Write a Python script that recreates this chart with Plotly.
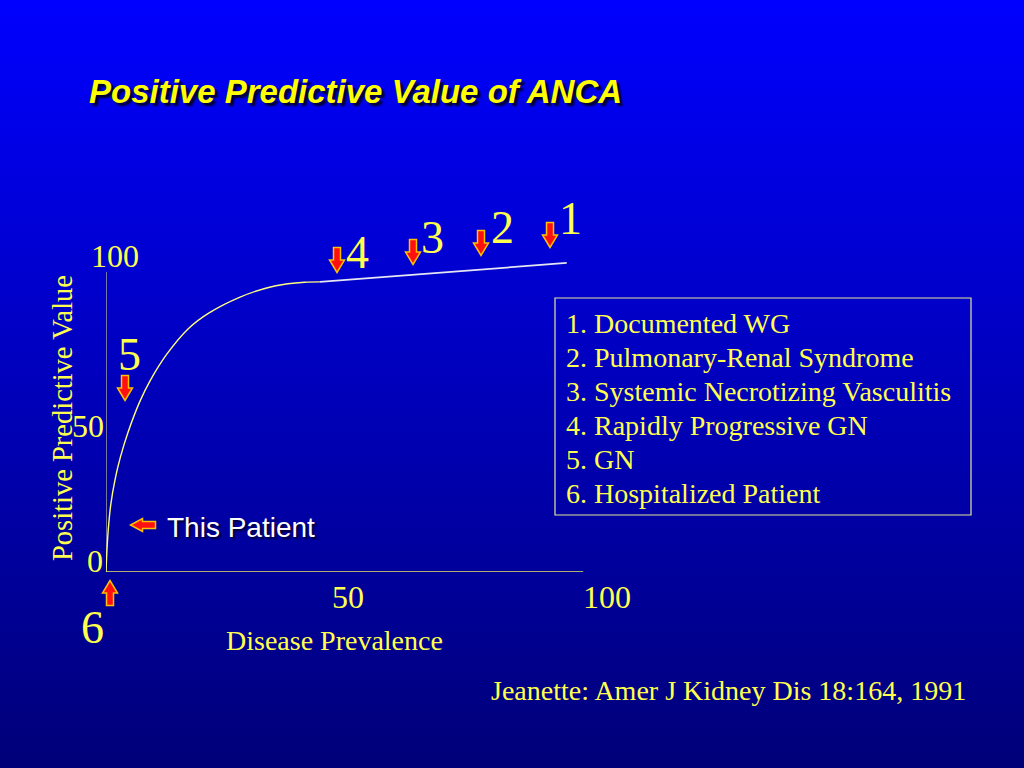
import plotly.graph_objects as go

W, H = 1024, 768

# ---- data ----
curve_x = [0, 0.2, 0.5, 1.0, 1.9, 3.0, 4.5, 7.0, 9.1, 12.6, 17.0, 21.3, 27.7, 33.0, 37.6, 41.0, 44.2]
curve_y = [0, 7.0, 14.0, 21.5, 29.5, 36.5, 44.0, 54.0, 60.5, 69.0, 77.0, 82.0, 87.0, 89.8, 91.2, 91.7, 91.8]
plateau_x = [44.2, 95.2]
plateau_y = [91.8, 97.8]
xaxis_line_x = [0, 98.6]
yaxis_line_y = [0, 94.9]
x_tick_labels = ["50", "100"]
y_tick_labels = ["100", "50", "0"]
group_numbers = ["1", "2", "3", "4", "5", "6"]
group_names = ["Documented WG", "Pulmonary-Renal Syndrome",
               "Systemic Necrotizing Vasculitis", "Rapidly Progressive GN",
               "GN", "Hospitalized Patient"]

title = "Positive Predictive Value of ANCA"
x_title = "Disease Prevalence"
y_title = "Positive Predictive Value"
citation = "Jeanette: Amer J Kidney Dis 18:164, 1991"
patient_label = "This Patient"

YEL = "#FFFF4D"
SERIF = "Liberation Serif, Times New Roman, serif"
SANS = "Liberation Sans, Arial, sans-serif"

def px(x):
    return x / W

def py(y):
    return 1 - y / H

fig = go.Figure()

# background gradient (top bright blue -> bottom navy)
shapes = []
n = 96
for i in range(n):
    t = (i + 0.5) / n
    b = int(round(255 - (255 - 120) * t))
    shapes.append(dict(type="rect", xref="paper", yref="paper",
                       x0=0, x1=1, y0=1 - i / n, y1=1 - (i + 1) / n - 0.002,
                       fillcolor=f"rgb(0,0,{b})", line=dict(width=0), layer="below"))

# axis lines
fig.add_trace(go.Scatter(x=xaxis_line_x, y=[0, 0], mode="lines",
                         line=dict(color="#E8E860", width=1.5), hoverinfo="skip"))
fig.add_trace(go.Scatter(x=[0, 0], y=yaxis_line_y, mode="lines",
                         line=dict(color="#C8C890", width=1.2), hoverinfo="skip"))
# curve
fig.add_trace(go.Scatter(x=curve_x, y=curve_y, mode="lines", line_shape="spline",
                         line=dict(color="#FFFF80", width=1.4, smoothing=1.0),
                         hoverinfo="skip", cliponaxis=False))
fig.add_trace(go.Scatter(x=plateau_x, y=plateau_y, mode="lines",
                         line=dict(color="#E6E6F2", width=1.8), hoverinfo="skip",
                         cliponaxis=False))

# arrows (pixel-size paths anchored in paper coords)
down = "M -3.5,12.5 L 3.5,12.5 L 3.5,0 L 7.5,0 L 0,-12.5 L -7.5,0 L -3.5,0 Z"
up = "M -3.5,-12.5 L 3.5,-12.5 L 3.5,0 L 7.5,0 L 0,12.5 L -7.5,0 L -3.5,0 Z"
left = "M 12.5,3.5 L -0.5,3.5 L -0.5,6.5 L -12.5,0 L -0.5,-6.5 L -0.5,-3.5 L 12.5,-3.5 Z"
arrows = [(550, 235, down), (481, 243, down), (413, 252, down), (337, 260, down),
          (125, 388, down), (110, 593, up), (143, 525, left)]
for ax, ay, p in arrows:
    shapes.append(dict(type="path", xref="paper", yref="paper",
                       xsizemode="pixel", ysizemode="pixel",
                       xanchor=px(ax), yanchor=py(ay), path=p,
                       fillcolor="#FF1010", line=dict(color="#FFC000", width=1.5),
                       layer="above"))

# legend box
shapes.append(dict(type="rect", xref="paper", yref="paper",
                   x0=px(555), x1=px(971), y0=py(298), y1=py(515),
                   line=dict(color="#E6E69A", width=1.2), fillcolor="rgba(0,0,0,0)"))

ann = []

def add(text, x, y, font, xanchor="center", yanchor="middle", **kw):
    ann.append(dict(text=text, x=px(x), y=py(y), xref="paper", yref="paper",
                    xanchor=xanchor, yanchor=yanchor, showarrow=False, font=font, **kw))

# title
add(f"<b><i>{title}</i></b>", 87, 92,
    dict(family="Liberation Sans, Arial", size=33, color="#FFFF00",
         shadow="3px 3px 2px #000030"), xanchor="left")
# group number labels
num_pos = [(570, 218), (502, 227), (432, 237), (357, 252), (129, 354), (92, 627)]
for lab, (lx, ly) in zip(group_numbers, num_pos):
    add(lab, lx, ly, dict(family=SERIF, size=46, color=YEL))
# tick labels
xt_pos = [(348, 597), (607, 597)]
for lab, (lx, ly) in zip(x_tick_labels, xt_pos):
    add(lab, lx, ly, dict(family=SERIF, size=32, color=YEL))
yt_pos = [(115, 256), (88, 426), (95, 561)]
for lab, (lx, ly) in zip(y_tick_labels, yt_pos):
    add(lab, lx, ly, dict(family=SERIF, size=32, color=YEL))
# axis titles
add(x_title, 334, 640, dict(family=SERIF, size=28, color=YEL))
add(y_title, 62, 418, dict(family=SERIF, size=28.5, color=YEL), textangle=-90)
# legend text
for i, (num, name) in enumerate(zip(group_numbers, group_names)):
    add(f"{num}. {name}", 564, 323 + 34 * i, dict(family=SERIF, size=28, color=YEL),
        xanchor="left")
# patient label
add(patient_label, 165, 527,
    dict(family=SANS, size=28, color="#FFFFFF", shadow="2px 2px 2px #000030"),
    xanchor="left")
# citation
add(citation, 968, 690, dict(family=SERIF, size=28, color=YEL), xanchor="right")

fig.update_layout(
    width=W, height=H, margin=dict(l=0, r=0, t=0, b=0),
    paper_bgcolor="#0000C0", plot_bgcolor="rgba(0,0,0,0)",
    showlegend=False, shapes=shapes, annotations=ann,
    xaxis=dict(domain=[106 / W, 590 / W], range=[0, 100], visible=False, fixedrange=True),
    yaxis=dict(domain=[(H - 572) / H, (H - 256) / H], range=[0, 100], visible=False,
               fixedrange=True),
)

fig.write_html("out.html", config={"displayModeBar": False},
               post_script="document.body.style.margin='0';document.body.style.overflow='hidden';")
